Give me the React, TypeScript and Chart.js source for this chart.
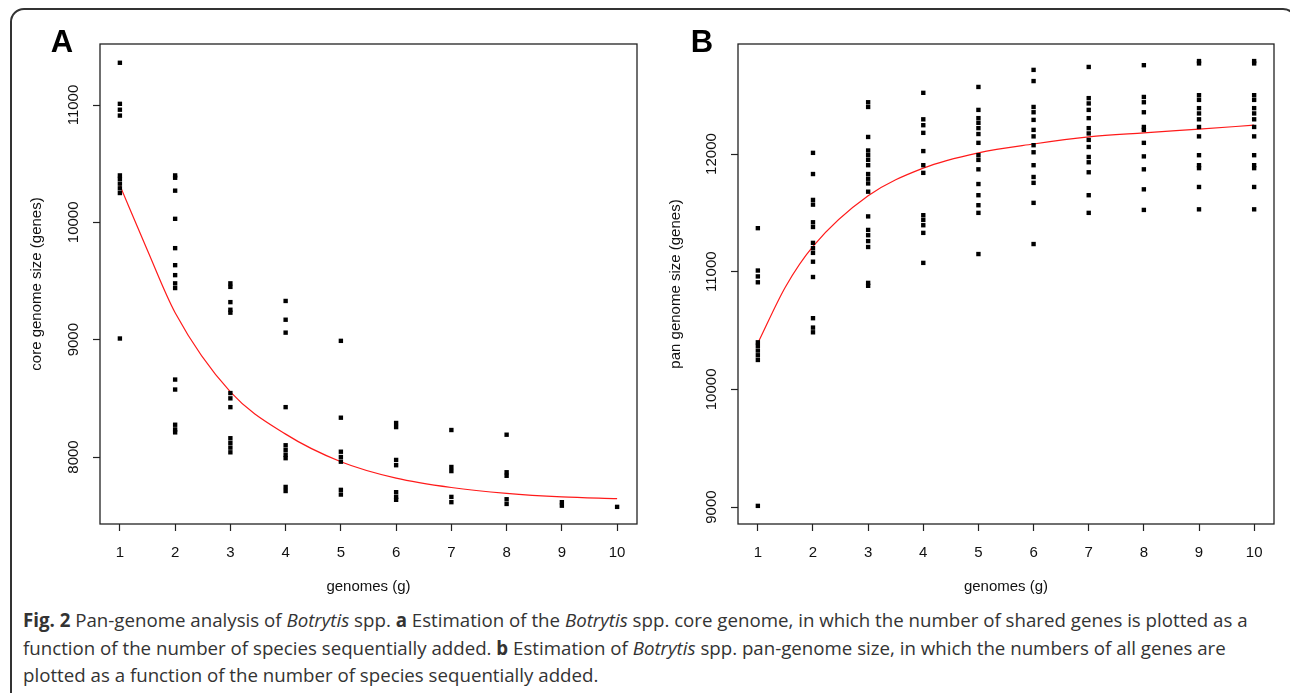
import React, { useEffect, useRef } from "react";
import { Chart, registerables } from "chart.js";

Chart.register(...registerables);

// ---------- data ----------
const genomes = [1, 2, 3, 4, 5, 6, 7, 8, 9, 10];
const xTicks = [1, 2, 3, 4, 5, 6, 7, 8, 9, 10];
const coreTicks = [8000, 9000, 10000, 11000];
const panTicks = [9000, 10000, 11000, 12000];

// core genome sizes observed for each number of genomes (index 0 -> 1 genome)
const coreSizes: number[][] = [
  [11360, 11010, 10960, 10910, 10400, 10370, 10330, 10290, 10250, 9010],
  [10400, 10380, 10270, 10030, 9780, 9635, 9550, 9480, 9440, 8660, 8575, 8275, 8235, 8210],
  [9480, 9450, 9320, 9255, 9230, 8545, 8500, 8425, 8160, 8120, 8080, 8040],
  [9330, 9170, 9060, 8425, 8100, 8060, 8020, 7990, 7745, 7710],
  [8990, 8335, 8045, 8000, 7960, 7720, 7680],
  [8290, 8255, 7975, 7930, 7700, 7660, 7635],
  [8230, 7915, 7880, 7660, 7615],
  [8190, 7870, 7840, 7640, 7600],
  [7615, 7585],
  [7575],
];

// pan genome sizes observed for each number of genomes
const panSizes: number[][] = [
  [11370, 11010, 10960, 10910, 10400, 10370, 10330, 10290, 10250, 9010],
  [12010, 11830, 11610, 11570, 11420, 11380, 11245, 11200, 11160, 11085, 10955, 10605, 10525, 10485],
  [12440, 12400, 12145, 12030, 11990, 11950, 11905, 11830, 11790, 11750, 11680, 11470, 11355, 11310, 11260, 11210, 10905, 10880],
  [12520, 12295, 12245, 12180, 12025, 11905, 11840, 11480, 11440, 11395, 11330, 11075],
  [12570, 12375, 12305, 12265, 12220, 12170, 12095, 11990, 11950, 11870, 11745, 11650, 11565, 11500, 11150],
  [12715, 12620, 12400, 12355, 12290, 12205, 12150, 12075, 12015, 11905, 11805, 11755, 11585, 11235],
  [12740, 12475, 12430, 12375, 12305, 12220, 12175, 12120, 12060, 11975, 11930, 11845, 11650, 11500],
  [12755, 12485, 12440, 12355, 12230, 12205, 12095, 11980, 11870, 11700, 11525],
  [12790, 12770, 12500, 12460, 12390, 12345, 12295, 12230, 12150, 11990, 11905, 11880, 11720, 11530],
  [12790, 12770, 12500, 12460, 12390, 12345, 12295, 12230, 12150, 11990, 11905, 11880, 11720, 11530],
];

// fitted curves
const fitGenomes = [1, 1.5, 2, 3, 4, 5, 6, 7, 8, 9, 10];
const coreFit = [10315, 9760, 9230, 8555, 8195, 7960, 7820, 7740, 7690, 7660, 7645];
const panFit = [10393, 10870, 11215, 11645, 11880, 12010, 12085, 12145, 12180, 12212, 12245];

// ---------- style ----------
const FONT = '"Liberation Sans", Arial, Helvetica, sans-serif';
const INK = "#111";

const rStylePlugin = {
  id: "rStyle",
  afterDraw(chart: any, _args: any, opts: any) {
    const { ctx, chartArea: a } = chart;
    const ys = chart.scales.y;
    ctx.save();
    ctx.strokeStyle = "#222";
    ctx.lineWidth = 1.3;
    ctx.strokeRect(a.left, a.top, a.right - a.left, a.bottom - a.top);
    ctx.fillStyle = INK;
    ctx.font = `15px ${FONT}`;
    ctx.textAlign = "center";
    ctx.textBaseline = "middle";
    for (const t of ys.ticks) {
      const py = ys.getPixelForValue(t.value);
      ctx.save();
      ctx.translate(a.left - opts.labelOffset, py);
      ctx.rotate(-Math.PI / 2);
      ctx.fillText(String(t.value), 0, 0);
      ctx.restore();
    }
    ctx.font = `bold 31px ${FONT}`;
    ctx.textAlign = "center";
    ctx.textBaseline = "alphabetic";
    ctx.fillStyle = "#000";
    ctx.fillText(opts.letter, opts.letterX, 52);
    ctx.restore();
  },
};

interface PanelProps {
  left: number;
  width: number;
  sizes: number[][];
  fit: number[];
  yTicks: number[];
  yMin: number;
  yMax: number;
  yTitle: string;
  axisWidth: number;
  padRight: number;
  titlePad: number;
  letter: string;
  letterX: number;
}

function Panel(p: PanelProps) {
  const ref = useRef<HTMLCanvasElement>(null);
  useEffect(() => {
    if (!ref.current) return;
    const points = genomes.flatMap((g, i) => p.sizes[i].map((v) => ({ x: g, y: v })));
    const curve = fitGenomes.map((g, i) => ({ x: g, y: p.fit[i] }));
    const grid = {
      display: true,
      drawOnChartArea: false,
      drawTicks: true,
      tickLength: 7,
      tickColor: "#222",
      tickWidth: 1.2,
    };
    const chart = new Chart(ref.current, {
      type: "scatter",
      data: {
        datasets: [
          {
            data: points,
            pointStyle: "rect",
            pointRadius: 3.1,
            pointBackgroundColor: "#000",
            pointBorderWidth: 0,
            showLine: false,
          },
          {
            data: curve,
            showLine: true,
            borderColor: "#ff1a1a",
            borderWidth: 1.2,
            pointRadius: 0,
            cubicInterpolationMode: "monotone",
            fill: false,
          },
        ],
      } as any,
      options: {
        responsive: false,
        maintainAspectRatio: false,
        animation: false,
        events: [],
        layout: { padding: { top: 44, right: p.padRight, left: 0, bottom: 0 } },
        plugins: {
          legend: { display: false },
          tooltip: { enabled: false },
          rStyle: { labelOffset: 26.5, letter: p.letter, letterX: p.letterX },
        } as any,
        scales: {
          x: {
            type: "linear",
            min: 0.64,
            max: 10.36,
            afterBuildTicks: (s: any) => {
              s.ticks = xTicks.map((v) => ({ value: v }));
            },
            afterFit: (s: any) => {
              s.height = 76;
            },
            grid,
            border: { display: false },
            ticks: {
              color: INK,
              font: { family: FONT, size: 15 },
              padding: 13,
              maxRotation: 0,
              autoSkip: false,
            },
            title: {
              display: true,
              text: "genomes (g)",
              color: INK,
              font: { family: FONT, size: 15 },
              padding: { top: 0, bottom: 4 },
            },
          },
          y: {
            type: "linear",
            min: p.yMin,
            max: p.yMax,
            afterBuildTicks: (s: any) => {
              s.ticks = p.yTicks.map((v) => ({ value: v }));
            },
            afterFit: (s: any) => {
              s.width = p.axisWidth;
            },
            grid,
            border: { display: false },
            ticks: { display: false },
            title: {
              display: true,
              text: p.yTitle,
              color: INK,
              font: { family: FONT, size: 15 },
              padding: { top: p.titlePad, bottom: 0 },
            },
          },
        },
      } as any,
      plugins: [rStylePlugin],
    });
    return () => chart.destroy();
  }, []);
  return (
    <canvas
      ref={ref}
      width={p.width}
      height={600}
      style={{ position: "absolute", left: p.left, top: 0, width: p.width, height: 600 }}
    />
  );
}

export default function App() {
  const cap: React.CSSProperties = { whiteSpace: "nowrap", height: 27.5, lineHeight: "27.5px" };
  return (
    <div
      style={{
        position: "absolute",
        left: 0,
        top: 0,
        width: 1290,
        height: 693,
        overflow: "hidden",
        background: "#fff",
      }}
    >
      <div
        style={{
          position: "absolute",
          left: 10,
          top: 8,
          width: 1287,
          height: 720,
          border: "2px solid #333",
          borderRadius: 14,
          boxSizing: "border-box",
        }}
      />
      <Panel
        left={0}
        width={650}
        sizes={coreSizes}
        fit={coreFit}
        yTicks={coreTicks}
        yMin={7429}
        yMax={11520}
        yTitle="core genome size (genes)"
        axisWidth={100}
        padRight={13}
        titlePad={28}
        letter="A"
        letterX={62}
      />
      <Panel
        left={650}
        width={640}
        sizes={panSizes}
        fit={panFit}
        yTicks={panTicks}
        yMin={8856}
        yMax={12935}
        yTitle="pan genome size (genes)"
        axisWidth={88}
        padRight={16}
        titlePad={17}
        letter="B"
        letterX={52}
      />
      <div
        style={{
          position: "absolute",
          left: 23,
          top: 606,
          fontFamily: '"Open Sans", "Noto Sans", sans-serif',
          fontSize: 18.7,
          color: "#333",
        }}
      >
        <div style={cap}>
          <b>Fig. 2</b> Pan-genome analysis of <i>Botrytis</i> spp. <b>a</b> Estimation of the <i>Botrytis</i> spp.
          core genome, in which the number of shared genes is plotted as a
        </div>
        <div style={cap}>
          function of the number of species sequentially added. <b>b</b> Estimation of <i>Botrytis</i> spp.
          pan-genome size, in which the numbers of all genes are
        </div>
        <div style={cap}>plotted as a function of the number of species sequentially added.</div>
      </div>
    </div>
  );
}
